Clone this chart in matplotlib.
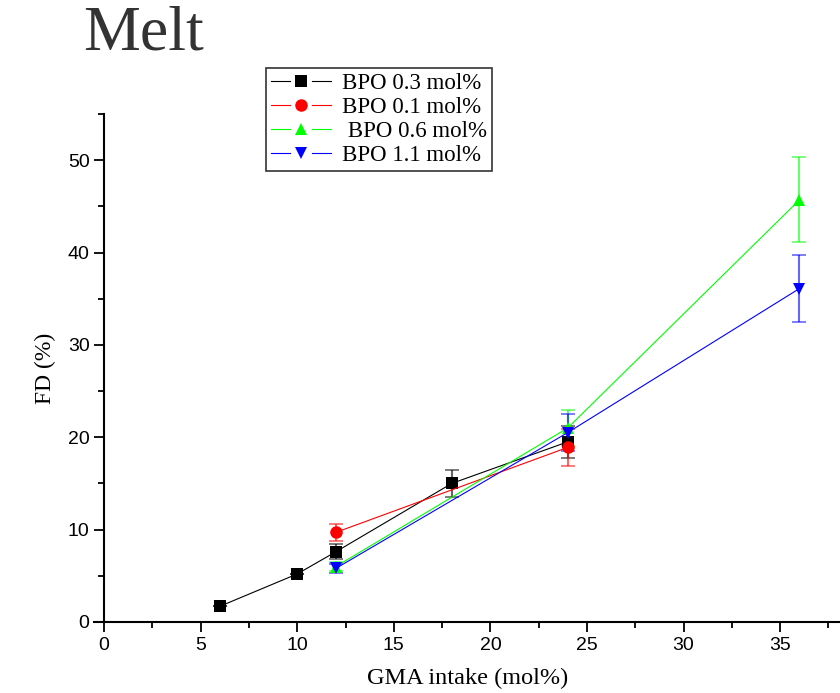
import matplotlib.pyplot as plt
from matplotlib.lines import Line2D
from matplotlib.legend_handler import HandlerLine2D
from matplotlib.ticker import MultipleLocator

# GMA intake (mol%) and FD (%) per BPO level
x_03 = [6, 10, 12, 18, 24]
y_03 = [1.7, 5.2, 7.6, 15.0, 19.5]
e_03 = [0, 0, 0.8, 1.5, 1.7]

x_01 = [12, 24]
y_01 = [9.7, 18.9]
e_01 = [0.9, 2.0]

x_06 = [12, 24, 36]
y_06 = [6.0, 21.0, 45.7]
e_06 = [0.5, 2.0, 4.6]

x_11 = [12, 24, 36]
y_11 = [5.8, 20.5, 36.1]
e_11 = [0.5, 2.0, 3.6]

series = [
    ("BPO 0.3 mol%", x_03, y_03, e_03, "black", "s"),
    ("BPO 0.1 mol%", x_01, y_01, e_01, "red", "o"),
    (" BPO 0.6 mol%", x_06, y_06, e_06, "#00ff00", "^"),
    ("BPO 1.1 mol%", x_11, y_11, e_11, "blue", "v"),
]

serif = ["Liberation Serif", "DejaVu Serif"]
sans = ["Liberation Sans", "DejaVu Sans"]


class GapHandler(HandlerLine2D):
    # Origin style legend entry: line - marker - line, with a small gap
    def create_artists(self, legend, orig, xdescent, ydescent, width, height,
                       fontsize, trans):
        y = height / 2 - ydescent
        mid = width / 2 - xdescent
        gap = 0.19 * width
        c = orig.get_color()
        lw = orig.get_linewidth()
        a = Line2D([-xdescent, mid - gap], [y, y], color=c, lw=lw)
        b = Line2D([mid + gap, width - xdescent], [y, y], color=c, lw=lw)
        m = Line2D([mid], [y], ls="none", marker=orig.get_marker(),
                   markersize=orig.get_markersize(), color=c, markeredgewidth=0)
        for art in (a, b, m):
            art.set_transform(trans)
        return [a, b, m]


fig = plt.figure(figsize=(8.4, 6.93), dpi=100)
ax = fig.add_axes([0.1124, 0.1025, 0.8876, 0.733])

handles = []
for label, xs, ys, es, c, m in series:
    ax.errorbar(xs, ys, yerr=es, fmt="none", ecolor=c, alpha=0.6,
                elinewidth=1.5, capsize=5, capthick=1.2, zorder=2)
    h, = ax.plot(xs, ys, color=c, lw=0.8, marker=m, markersize=9,
                 markeredgewidth=0, label=label, zorder=3)
    handles.append(h)

ax.set_xlim(-0.5, 38.1)
ax.set_ylim(0, 55)
ax.spines["top"].set_visible(False)
ax.spines["right"].set_visible(False)
ax.spines["left"].set_position(("data", 0))
ax.spines["left"].set_linewidth(1.5)
ax.spines["bottom"].set_linewidth(1.5)

ax.xaxis.set_major_locator(MultipleLocator(5))
ax.xaxis.set_minor_locator(MultipleLocator(2.5))
ax.yaxis.set_major_locator(MultipleLocator(10))
ax.yaxis.set_minor_locator(MultipleLocator(5))
ax.tick_params(which="major", direction="out", length=7, width=1.3)
ax.tick_params(which="minor", direction="out", length=4, width=1.3)
for t in ax.get_xticklabels() + ax.get_yticklabels():
    t.set_family(sans)
    t.set_fontsize(14)

ax.set_xlabel("GMA intake (mol%)", family=serif, fontsize=17.5, labelpad=10)
ax.set_ylabel("FD (%)", family=serif, fontsize=17, labelpad=8)

leg = fig.legend(handles=handles, loc="upper left",
                 bbox_to_anchor=(0.317, 0.902), borderaxespad=0,
                 prop={"family": serif, "size": 16.5},
                 frameon=True, fancybox=False, edgecolor="black",
                 handlelength=2.6, handletextpad=0.5, labelspacing=0.13,
                 borderpad=0.22, numpoints=1,
                 handler_map={Line2D: GapHandler()})
leg.get_frame().set_linewidth(1.2)

fig.text(0.099, 0.950, "Melt", family=serif, fontsize=46, color="#333333",
         va="center", ha="left")

fig.savefig("out.png", dpi=100)
